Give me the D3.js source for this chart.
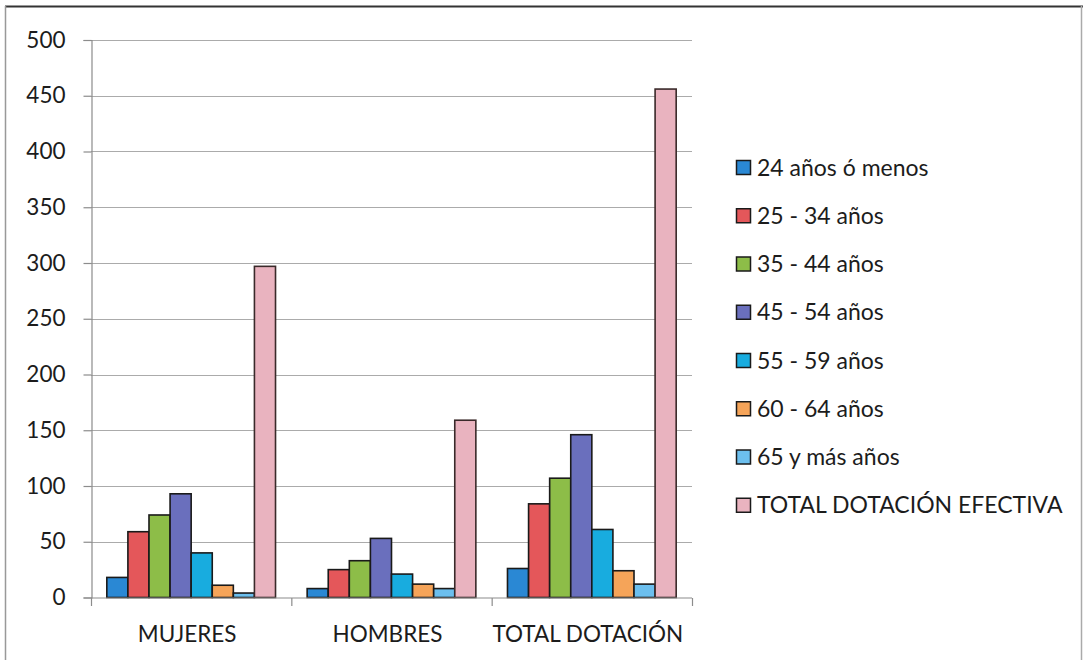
<!DOCTYPE html>
<html>
<head>
<meta charset="utf-8">
<script src="https://cdn.jsdelivr.net/npm/d3@7"></script>
<style>
  html, body { margin: 0; padding: 0; background: #fff; }
  svg { display: block; font-family: Lato, "Open Sans", sans-serif; }
</style>
</head>
<body>
<svg id="chart" width="1083" height="660"></svg>
<script>
// Groups along the x axis
const categories = ["MUJERES", "HOMBRES", "TOTAL DOTACIÓN"];

// Age brackets (one bar per bracket inside each group)
const seriesNames = [
  "24 años ó menos",
  "25 - 34 años",
  "35 - 44 años",
  "45 - 54 años",
  "55 - 59 años",
  "60 - 64 años",
  "65 y más años",
  "TOTAL DOTACIÓN EFECTIVA"
];

// Headcount per bracket, in the order of categories
const s24menos   = [18, 8, 26];
const s25a34     = [59, 25, 84];
const s35a44     = [74, 33, 107];
const s45a54     = [93, 53, 146];
const s55a59     = [40, 21, 61];
const s60a64     = [11, 12, 24];
const s65mas     = [4, 8, 12];
const sTotal     = [297, 159, 456];

const seriesValues = [s24menos, s25a34, s35a44, s45a54, s55a59, s60a64, s65mas, sTotal];

const yTicks = [0, 50, 100, 150, 200, 250, 300, 350, 400, 450, 500];

const colors = ["#2a88d4", "#e4575a", "#8dbd48", "#6a6fbd", "#18acdf", "#f5a459", "#6cbfee", "#e9b3bf"];

const svg = d3.select("#chart");

// outer frame
svg.append("line").attr("x1", 5).attr("x2", 1083).attr("y1", 6.5).attr("y2", 6.5)
  .attr("stroke", "#333").attr("stroke-width", 2);
svg.append("line").attr("x1", 5.5).attr("x2", 5.5).attr("y1", 6).attr("y2", 660)
  .attr("stroke", "#999").attr("stroke-width", 1.5);
svg.append("line").attr("x1", 1081.5).attr("x2", 1081.5).attr("y1", 6).attr("y2", 660)
  .attr("stroke", "#aaa").attr("stroke-width", 1.5);

const plot = { left: 91, right: 692, top: 40, bottom: 597.5 };

const y = d3.scaleLinear().domain([0, 500]).range([plot.bottom, plot.top]);
const x0 = d3.scaleBand().domain(categories).range([plot.left, plot.right]).paddingInner(0).paddingOuter(0);
const x1 = d3.scaleBand().domain(seriesNames).range([0, x0.bandwidth()]).paddingInner(0).paddingOuter(0.75);

// horizontal gridlines
svg.append("g")
  .selectAll("line")
  .data(yTicks.filter(d => d > 0))
  .join("line")
  .attr("x1", plot.left).attr("x2", plot.right)
  .attr("y1", d => Math.round(y(d)) + 0.5).attr("y2", d => Math.round(y(d)) + 0.5)
  .attr("stroke", "#ababab").attr("stroke-width", 1.1);

// y axis
const yAxis = svg.append("g")
  .attr("transform", `translate(${plot.left + 0.5},0)`)
  .call(d3.axisLeft(y).tickValues(yTicks).tickSize(8).tickPadding(18).tickFormat(d3.format("d")));
yAxis.select(".domain").attr("stroke", "#8c8c8c").attr("stroke-width", 1.2);
yAxis.selectAll(".tick line").attr("stroke", "#8c8c8c").attr("stroke-width", 1.2);
yAxis.selectAll(".tick text").attr("font-size", 22.5).attr("fill", "#1c1c1c")
  .attr("font-family", "Lato, 'Open Sans', sans-serif");

// bars
const groups = svg.append("g")
  .selectAll("g")
  .data(categories)
  .join("g")
  .attr("transform", d => `translate(${x0(d)},0)`);

groups.selectAll("rect")
  .data((c, ci) => seriesNames.map((s, si) => ({ s, si, v: seriesValues[si][ci] })))
  .join("rect")
  .attr("x", d => x1(d.s))
  .attr("y", d => y(d.v))
  .attr("width", x1.bandwidth())
  .attr("height", d => plot.bottom - y(d.v))
  .attr("fill", d => colors[d.si])
  .attr("stroke", d => d.si === 7 ? "#3a2a2a" : "#1a1a1a")
  .attr("stroke-width", 1.6);

// x axis
const xAxis = svg.append("g")
  .attr("transform", `translate(0,${plot.bottom + 0.5})`);
xAxis.append("line").attr("x1", plot.left).attr("x2", plot.right)
  .attr("stroke", "#8c8c8c").attr("stroke-width", 1.2);
const boundaries = categories.map(c => x0(c)).concat([plot.right]);
xAxis.selectAll("line.tick")
  .data(boundaries)
  .join("line")
  .attr("class", "tick")
  .attr("x1", d => d + 0.5).attr("x2", d => d + 0.5)
  .attr("y1", 0).attr("y2", 8)
  .attr("stroke", "#8c8c8c").attr("stroke-width", 1.2);
xAxis.selectAll("text")
  .data(categories)
  .join("text")
  .attr("x", d => x0(d) + x0.bandwidth() / 2 - 4)
  .attr("y", 44)
  .attr("text-anchor", "middle")
  .attr("font-size", 22.5)
  .attr("fill", "#1c1c1c")
  .text(d => d);

// legend
const legend = svg.append("g").attr("transform", "translate(736,167.5)");
const rows = legend.selectAll("g")
  .data(seriesNames)
  .join("g")
  .attr("transform", (d, i) => `translate(0,${i * 48.25})`);
rows.append("rect")
  .attr("x", 0.5).attr("y", -7).attr("width", 14).attr("height", 14)
  .attr("fill", (d, i) => colors[i])
  .attr("stroke", "#1a1a1a").attr("stroke-width", 1.5);
rows.append("text")
  .attr("x", 21).attr("y", 8)
  .attr("font-size", 23)
  .attr("fill", "#1c1c1c")
  .text(d => d);
</script>
</body>
</html>
